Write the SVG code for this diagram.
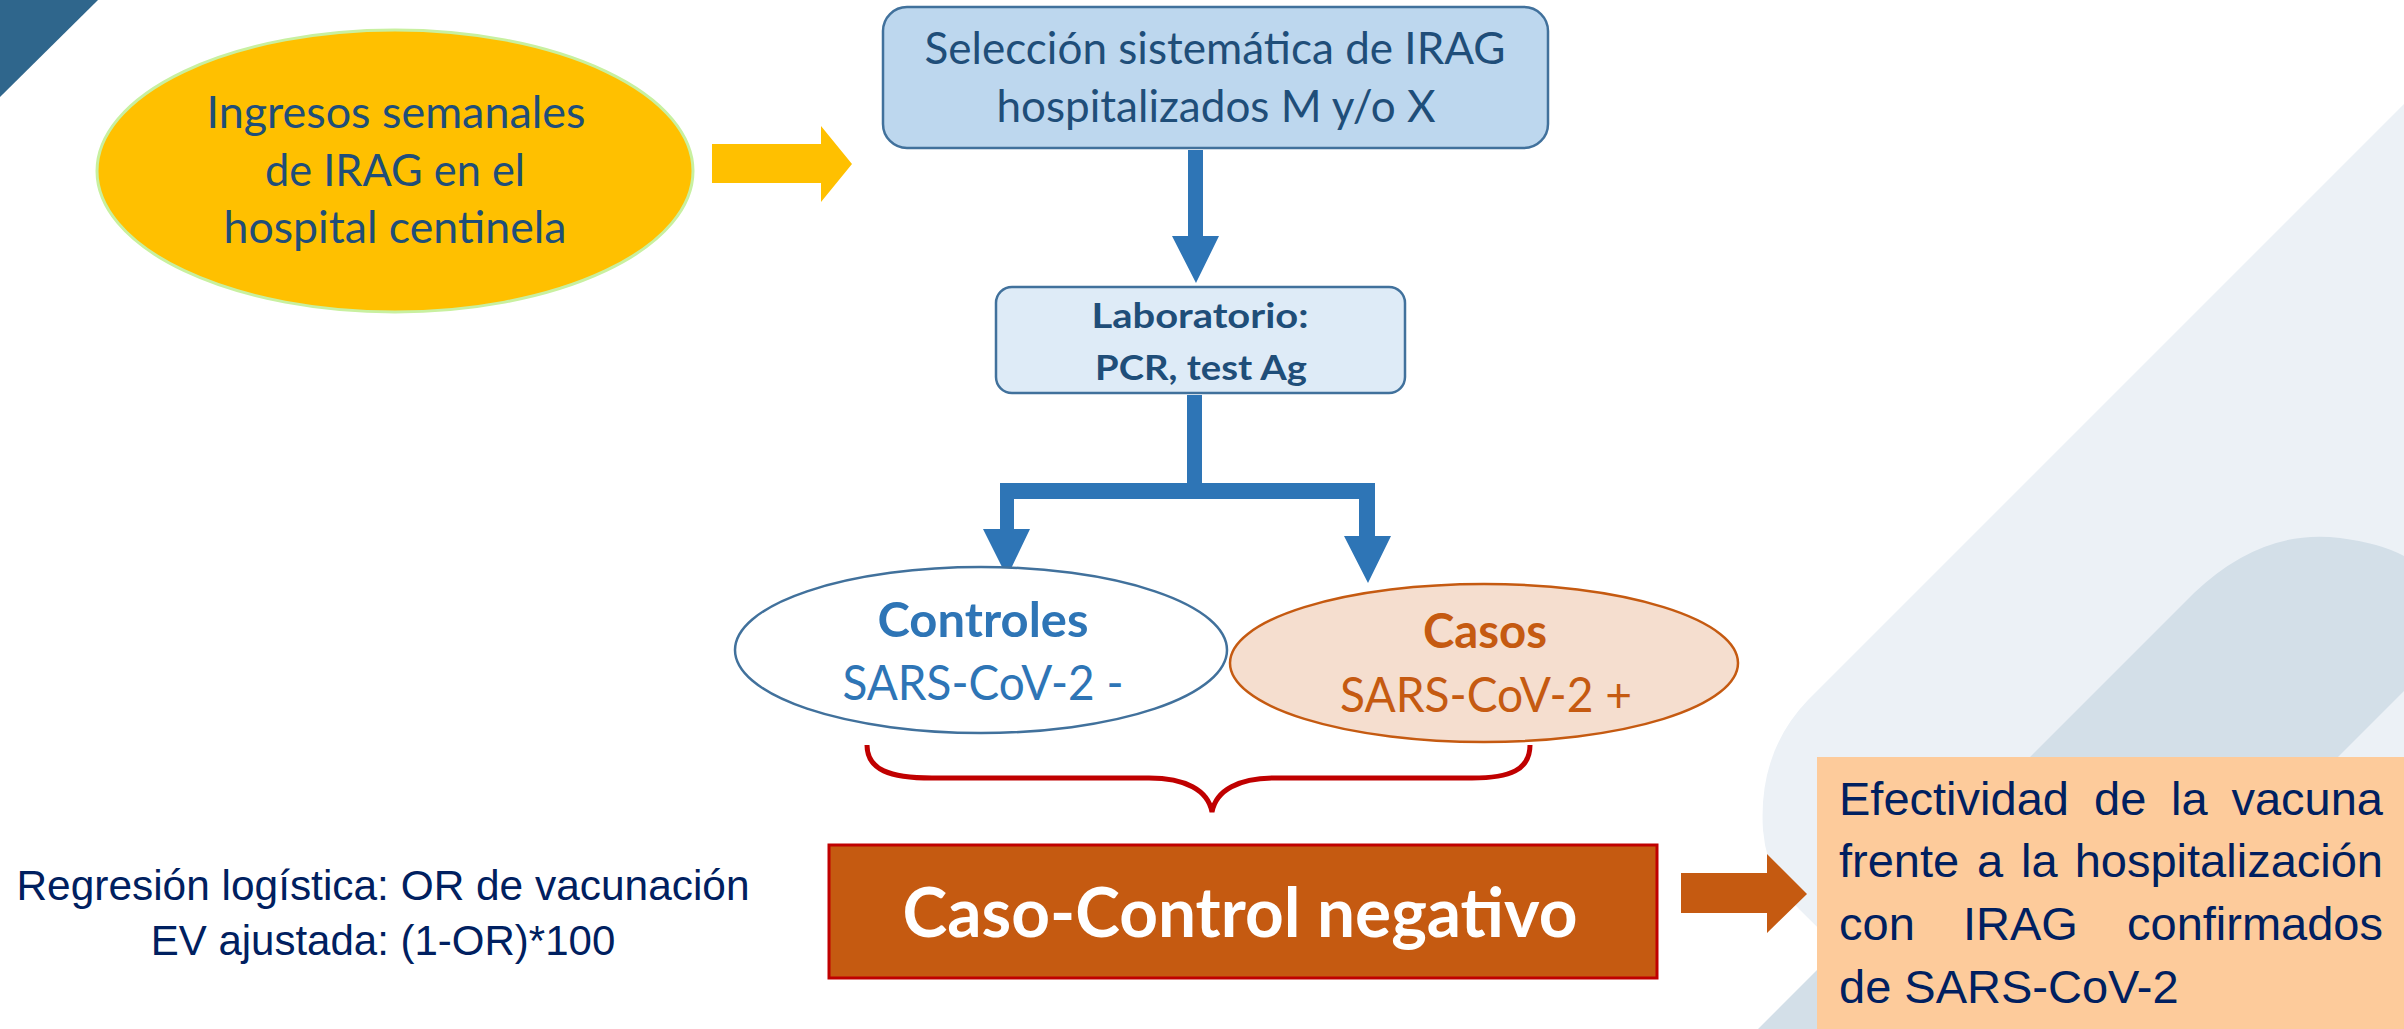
<svg xmlns="http://www.w3.org/2000/svg" width="2404" height="1029" viewBox="0 0 2404 1029">
<style>
.cal{font-family:Lato,"Open Sans","Noto Sans",sans-serif;}
.ar{font-family:"Liberation Sans",Arial,sans-serif;}
.b{font-weight:bold;}
.navy{fill:#1F4E79;}
.blue{fill:#2E75B6;}
.orange{fill:#C55A11;}
.dn{fill:#002060;}
</style>
<rect x="0" y="0" width="2404" height="1029" fill="#FFFFFF"/>
<g id="background">
  <polygon points="0,0 98,0 0,97" fill="#2F668C"/>
  <path d="M2404,104 L1808,700 Q1758,752 1763,830 Q1767,878 1800,910 L1920,1029 L2404,1029 Z" fill="#ECF1F6"/>
  <path d="M2194,593 Q2262,528 2340,538 Q2380,543 2404,556 L2404,691 L2066,1029 L1758,1029 Z" fill="#D3DFE8"/>
</g>
<g id="connectors">
  <polygon points="712,144 821,144 821,126 852,164 821,202 821,183 712,183" fill="#FFC000"/>
  <polygon points="1188,150 1203,150 1203,236 1219,236 1196,283 1172,236 1188,236" fill="#2E75B6"/>
  <path d="M1187,395 H1202 V483 H1375 V536 H1391 L1368,583 L1344,536 H1359 V499 H1014 V529 H1030 L1007,577 L983,529 H1000 V483 H1187 Z" fill="#2E75B6"/>
  <path d="M867,745 C867,770 890,778 932,778 L1149,778 C1185,778 1208,790 1212,812 C1216,790 1239,778 1275,778 L1472,778 C1510,778 1530,770 1530,745" fill="none" stroke="#C00000" stroke-width="5"/>
  <polygon points="1681,873 1767,873 1767,854 1807,894 1767,933 1767,913 1681,913" fill="#C55A11"/>
</g>
<g id="node-ingresos">
  <ellipse cx="395" cy="171" rx="298" ry="141" fill="#FFC000" stroke="#C8F0A0" stroke-width="3"/>
  <text class="cal navy" font-size="44" text-anchor="middle" x="396" y="128" textLength="379" lengthAdjust="spacingAndGlyphs">Ingresos semanales</text>
  <text class="cal navy" font-size="44" text-anchor="middle" x="395" y="186" textLength="260" lengthAdjust="spacingAndGlyphs">de IRAG en el</text>
  <text class="cal navy" font-size="44" text-anchor="middle" x="395" y="243" textLength="343" lengthAdjust="spacingAndGlyphs">hospital centinela</text>
</g>
<g id="node-seleccion">
  <rect x="883" y="7" width="665" height="141" rx="24" fill="#BDD7EE" stroke="#41719C" stroke-width="2.5"/>
  <text class="cal navy" font-size="44" text-anchor="middle" x="1215" y="64" textLength="581" lengthAdjust="spacingAndGlyphs">Selección sistemática de IRAG</text>
  <text class="cal navy" font-size="44" text-anchor="middle" x="1216" y="122" textLength="439" lengthAdjust="spacingAndGlyphs">hospitalizados M y/o X</text>
</g>
<g id="node-laboratorio">
  <rect x="996" y="287" width="409" height="106" rx="16" fill="#DEEBF7" stroke="#41719C" stroke-width="2.5"/>
  <text class="cal b navy" font-size="35" text-anchor="middle" x="1200" y="328" textLength="217" lengthAdjust="spacingAndGlyphs">Laboratorio:</text>
  <text class="cal b navy" font-size="35" text-anchor="middle" x="1201" y="380" textLength="212" lengthAdjust="spacingAndGlyphs">PCR, test Ag</text>
</g>
<g id="node-controles">
  <ellipse cx="981" cy="650" rx="246" ry="83" fill="#FFFFFF" stroke="#41719C" stroke-width="2.5"/>
  <text class="cal b blue" font-size="48" text-anchor="middle" x="983" y="637" textLength="211" lengthAdjust="spacingAndGlyphs">Controles</text>
  <text class="cal blue" font-size="48" text-anchor="middle" x="983" y="700" textLength="281" lengthAdjust="spacingAndGlyphs">SARS-CoV-2 -</text>
</g>
<g id="node-casos">
  <ellipse cx="1484" cy="663" rx="254" ry="79" fill="#F5DECF" stroke="#C55A11" stroke-width="2.5"/>
  <text class="cal b orange" font-size="48" text-anchor="middle" x="1485" y="648" textLength="124" lengthAdjust="spacingAndGlyphs">Casos</text>
  <text class="cal orange" font-size="48" text-anchor="middle" x="1486" y="712" textLength="292" lengthAdjust="spacingAndGlyphs">SARS-CoV-2 +</text>
</g>
<g id="node-casocontrol">
  <rect x="829" y="845" width="828" height="133" fill="#C55A11" stroke="#C00000" stroke-width="3"/>
  <text class="cal b" fill="#FFFFFF" font-size="68" text-anchor="middle" x="1240" y="937" textLength="675" lengthAdjust="spacingAndGlyphs">Caso-Control negativo</text>
</g>
<g id="node-regresion">
  <text class="ar dn" font-size="42" text-anchor="middle" x="383" y="900" textLength="733" lengthAdjust="spacingAndGlyphs">Regresión logística: OR de vacunación</text>
  <text class="ar dn" font-size="42" text-anchor="middle" x="383" y="955">EV ajustada: (1-OR)*100</text>
</g>
<g id="node-efectividad">
  <rect x="1817" y="757" width="600" height="280" fill="#FDCB9B"/>
  <g class="ar dn" font-size="47">
    <text x="1839" y="815">Efectividad</text>
    <text x="2094" y="815">de</text>
    <text x="2171" y="815">la</text>
    <text x="2383" y="815" text-anchor="end">vacuna</text>
    <text x="1839" y="877">frente</text>
    <text x="1977" y="877">a</text>
    <text x="2021" y="877">la</text>
    <text x="2383" y="877" text-anchor="end">hospitalización</text>
    <text x="1839" y="940">con</text>
    <text x="1963" y="940">IRAG</text>
    <text x="2383" y="940" text-anchor="end">confirmados</text>
    <text x="1839" y="1003">de SARS-CoV-2</text>
  </g>
</g>
</svg>
